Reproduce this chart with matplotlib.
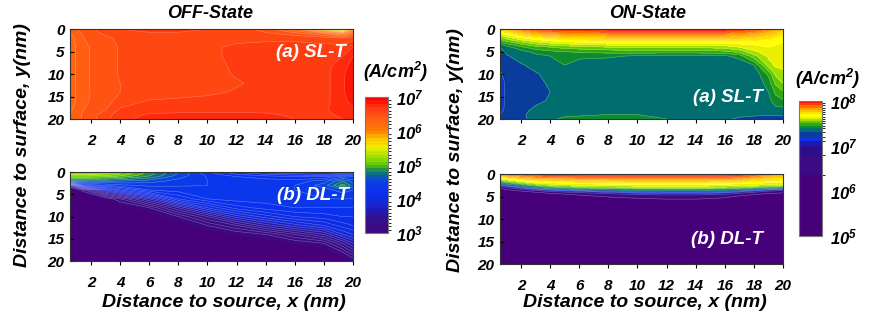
"""Current density maps, OFF / ON state, SL-T vs DL-T (log10 of J in A/cm^2)."""

import numpy as np
import matplotlib
matplotlib.use("Agg")
import matplotlib.pyplot as plt
from matplotlib.cm import ScalarMappable
from matplotlib.colors import LinearSegmentedColormap, ListedColormap, BoundaryNorm

plt.rcParams["font.family"] = ["Liberation Sans", "DejaVu Sans"]
plt.rcParams["font.weight"] = "bold"
plt.rcParams["font.style"] = "italic"
plt.rcParams["mathtext.default"] = "regular"

# ── data: log10(J) ───────────────────────────────────────────────────────────
# OFF-State, (a) SL-T
off_sl_x = [0.55, 1.5, 3, 4, 6, 8, 10, 12, 14, 16, 18, 19.3, 20]
off_sl_y = [0, 1, 2, 4, 6, 8, 10, 12, 14, 16, 18, 19, 20]
off_sl_j = [
    [6.35, 6.45, 6.55, 6.60, 6.65, 6.65, 6.60, 6.55, 6.45, 6.20, 5.60, 5.20, 5.80],
    [6.30, 6.42, 6.52, 6.55, 6.58, 6.58, 6.57, 6.55, 6.52, 6.45, 6.30, 6.05, 6.30],
    [6.25, 6.40, 6.48, 6.52, 6.55, 6.55, 6.56, 6.57, 6.58, 6.58, 6.55, 6.50, 6.55],
    [6.25, 6.38, 6.46, 6.51, 6.53, 6.54, 6.58, 6.62, 6.63, 6.63, 6.63, 6.65, 6.70],
    [6.25, 6.38, 6.46, 6.51, 6.53, 6.54, 6.57, 6.63, 6.64, 6.64, 6.65, 6.70, 6.80],
    [6.25, 6.38, 6.46, 6.51, 6.53, 6.54, 6.56, 6.62, 6.64, 6.65, 6.66, 6.75, 6.85],
    [6.25, 6.38, 6.46, 6.51, 6.53, 6.54, 6.56, 6.61, 6.64, 6.65, 6.66, 6.78, 6.88],
    [6.25, 6.38, 6.46, 6.50, 6.53, 6.54, 6.56, 6.59, 6.63, 6.64, 6.66, 6.78, 6.90],
    [6.25, 6.38, 6.45, 6.50, 6.53, 6.56, 6.58, 6.61, 6.63, 6.64, 6.66, 6.78, 6.90],
    [6.25, 6.38, 6.46, 6.54, 6.61, 6.62, 6.63, 6.64, 6.65, 6.65, 6.67, 6.76, 6.85],
    [6.28, 6.40, 6.50, 6.62, 6.66, 6.67, 6.68, 6.68, 6.68, 6.68, 6.69, 6.73, 6.78],
    [6.30, 6.42, 6.55, 6.66, 6.71, 6.72, 6.72, 6.72, 6.71, 6.69, 6.69, 6.71, 6.74],
    [6.30, 6.42, 6.56, 6.68, 6.73, 6.74, 6.74, 6.73, 6.72, 6.70, 6.69, 6.70, 6.72],
]

# OFF-State, (b) DL-T
off_dl_x = [0.55, 1.5, 3, 4, 6, 8, 10, 12, 14, 16, 18, 19.3, 20]
off_dl_y = [0, 0.5, 1, 2, 3, 4, 6, 8, 10, 12, 14, 16, 18, 20]
off_dl_j = [
    [5.30, 5.30, 5.25, 5.12, 4.85, 4.58, 4.32, 4.10, 3.95, 3.90, 3.85, 3.90, 4.00],
    [5.22, 5.22, 5.18, 5.08, 4.84, 4.58, 4.37, 4.20, 4.10, 4.05, 4.00, 4.10, 4.20],
    [5.05, 5.05, 5.02, 4.95, 4.78, 4.54, 4.39, 4.30, 4.25, 4.20, 4.20, 4.35, 4.40],
    [4.62, 4.62, 4.62, 4.60, 4.55, 4.46, 4.40, 4.35, 4.35, 4.35, 4.45, 4.70, 4.55],
    [3.30, 4.10, 4.30, 4.36, 4.42, 4.41, 4.40, 4.38, 4.38, 4.40, 4.55, 4.85, 4.65],
    [2.80, 3.20, 3.80, 4.00, 4.30, 4.35, 4.38, 4.38, 4.40, 4.40, 4.45, 4.55, 4.50],
    [2.60, 2.70, 3.00, 3.20, 3.60, 4.10, 4.30, 4.35, 4.35, 4.40, 4.40, 4.40, 4.40],
    [2.50, 2.60, 2.80, 2.90, 3.10, 3.50, 3.90, 4.15, 4.25, 4.30, 4.30, 4.30, 4.30],
    [2.50, 2.50, 2.60, 2.70, 2.90, 3.10, 3.40, 3.75, 3.95, 4.10, 4.15, 4.20, 4.20],
    [2.50, 2.50, 2.50, 2.60, 2.70, 2.90, 3.10, 3.30, 3.55, 3.75, 3.90, 4.05, 4.10],
    [2.50, 2.50, 2.50, 2.50, 2.60, 2.70, 2.90, 3.00, 3.10, 3.30, 3.50, 3.80, 3.90],
    [2.50, 2.50, 2.50, 2.50, 2.50, 2.60, 2.70, 2.80, 2.90, 3.00, 3.10, 3.40, 3.60],
    [2.50, 2.50, 2.50, 2.50, 2.50, 2.50, 2.50, 2.60, 2.70, 2.80, 2.90, 3.10, 3.30],
    [2.50, 2.50, 2.50, 2.50, 2.50, 2.50, 2.50, 2.50, 2.60, 2.70, 2.80, 2.90, 3.00],
]

# ON-State, (a) SL-T
on_sl_x = [0.55, 1, 2, 3, 4, 5, 6, 8, 10, 12, 14, 16, 17, 18, 19, 19.5, 20]
on_sl_y = [0, 0.5, 1, 2, 3, 4, 5, 6, 8, 10, 12, 14, 16, 18, 19, 20]
on_sl_j = [
    [7.72, 7.78, 7.86, 7.92, 7.94, 7.96, 7.96, 7.97, 7.97, 7.97, 7.97, 7.97, 7.96, 7.90, 7.86, 7.81, 7.76],
    [7.68, 7.73, 7.81, 7.86, 7.89, 7.90, 7.91, 7.92, 7.92, 7.92, 7.92, 7.92, 7.91, 7.87, 7.82, 7.78, 7.74],
    [7.63, 7.67, 7.75, 7.80, 7.82, 7.84, 7.84, 7.86, 7.86, 7.86, 7.86, 7.86, 7.85, 7.82, 7.78, 7.75, 7.71],
    [7.52, 7.57, 7.64, 7.68, 7.71, 7.73, 7.73, 7.75, 7.75, 7.75, 7.75, 7.75, 7.75, 7.73, 7.71, 7.69, 7.67],
    [7.42, 7.47, 7.53, 7.58, 7.61, 7.63, 7.64, 7.66, 7.66, 7.66, 7.66, 7.66, 7.67, 7.67, 7.67, 7.66, 7.65],
    [7.30, 7.38, 7.44, 7.48, 7.50, 7.52, 7.53, 7.55, 7.56, 7.56, 7.56, 7.57, 7.60, 7.63, 7.65, 7.64, 7.63],
    [7.27, 7.32, 7.38, 7.42, 7.44, 7.45, 7.46, 7.47, 7.48, 7.48, 7.48, 7.49, 7.52, 7.59, 7.63, 7.63, 7.62],
    [7.26, 7.29, 7.34, 7.38, 7.40, 7.41, 7.41, 7.41, 7.39, 7.38, 7.38, 7.39, 7.42, 7.53, 7.61, 7.62, 7.61],
    [7.22, 7.26, 7.29, 7.33, 7.38, 7.40, 7.38, 7.36, 7.35, 7.35, 7.35, 7.35, 7.36, 7.40, 7.57, 7.61, 7.61],
    [7.18, 7.24, 7.27, 7.29, 7.33, 7.35, 7.35, 7.35, 7.35, 7.35, 7.35, 7.35, 7.35, 7.36, 7.46, 7.56, 7.59],
    [7.15, 7.22, 7.26, 7.28, 7.31, 7.34, 7.35, 7.35, 7.35, 7.35, 7.35, 7.35, 7.35, 7.36, 7.42, 7.51, 7.55],
    [7.15, 7.22, 7.26, 7.28, 7.30, 7.33, 7.35, 7.35, 7.35, 7.35, 7.35, 7.35, 7.35, 7.35, 7.40, 7.46, 7.49],
    [7.15, 7.22, 7.26, 7.28, 7.31, 7.34, 7.35, 7.35, 7.35, 7.35, 7.35, 7.35, 7.35, 7.35, 7.38, 7.43, 7.44],
    [7.16, 7.23, 7.27, 7.32, 7.34, 7.35, 7.36, 7.36, 7.36, 7.35, 7.35, 7.35, 7.35, 7.34, 7.35, 7.38, 7.38],
    [7.20, 7.25, 7.28, 7.34, 7.36, 7.38, 7.39, 7.40, 7.40, 7.38, 7.36, 7.34, 7.33, 7.32, 7.31, 7.31, 7.31],
    [7.22, 7.26, 7.28, 7.33, 7.38, 7.42, 7.42, 7.42, 7.42, 7.40, 7.37, 7.32, 7.28, 7.26, 7.25, 7.25, 7.25],
]

# ON-State, (b) DL-T
on_dl_x = [0.55, 1, 2, 3, 4, 6, 8, 10, 12, 14, 16, 17, 18, 19, 20]
on_dl_y = [0, 0.5, 1, 1.5, 2, 2.5, 3, 3.5, 4, 4.5, 5, 6, 8, 20]
on_dl_j = [
    [7.85, 7.90, 7.93, 7.95, 7.96, 7.97, 7.97, 7.97, 7.97, 7.97, 7.97, 7.96, 7.93, 7.85, 7.80],
    [7.72, 7.78, 7.84, 7.88, 7.90, 7.92, 7.92, 7.92, 7.92, 7.92, 7.92, 7.90, 7.86, 7.80, 7.76],
    [7.60, 7.66, 7.74, 7.78, 7.80, 7.83, 7.84, 7.84, 7.84, 7.84, 7.84, 7.82, 7.78, 7.74, 7.72],
    [7.48, 7.55, 7.64, 7.70, 7.72, 7.74, 7.75, 7.76, 7.76, 7.76, 7.75, 7.74, 7.72, 7.70, 7.68],
    [7.30, 7.40, 7.52, 7.60, 7.64, 7.67, 7.68, 7.69, 7.69, 7.69, 7.68, 7.67, 7.66, 7.64, 7.63],
    [7.00, 7.15, 7.35, 7.48, 7.55, 7.60, 7.62, 7.63, 7.63, 7.63, 7.62, 7.61, 7.60, 7.57, 7.56],
    [6.50, 6.80, 7.10, 7.30, 7.40, 7.48, 7.52, 7.54, 7.55, 7.55, 7.53, 7.50, 7.46, 7.40, 7.35],
    [6.00, 6.30, 6.70, 6.95, 7.10, 7.25, 7.30, 7.35, 7.36, 7.36, 7.33, 7.28, 7.20, 7.05, 6.95],
    [5.60, 5.80, 6.10, 6.40, 6.70, 6.90, 7.05, 7.15, 7.18, 7.18, 7.12, 7.00, 6.85, 6.60, 6.50],
    [5.40, 5.50, 5.70, 5.90, 6.10, 6.50, 6.70, 6.85, 6.90, 6.90, 6.80, 6.60, 6.40, 6.20, 6.10],
    [5.30, 5.30, 5.40, 5.50, 5.70, 6.10, 6.40, 6.50, 6.55, 6.55, 6.45, 6.25, 6.00, 5.80, 5.70],
    [5.20, 5.20, 5.20, 5.30, 5.40, 5.60, 5.90, 6.10, 6.20, 6.20, 6.10, 5.90, 5.60, 5.40, 5.30],
    [4.90, 4.90, 4.90, 4.90, 4.90, 4.90, 4.90, 4.90, 4.90, 4.90, 4.90, 4.90, 4.90, 4.90, 4.90],
    [4.90, 4.90, 4.90, 4.90, 4.90, 4.90, 4.90, 4.90, 4.90, 4.90, 4.90, 4.90, 4.90, 4.90, 4.90],
]

off_ticks = [3, 4, 5, 6, 7]
on_ticks = [5, 6, 7, 8]

# ── colour scales ────────────────────────────────────────────────────────────
off_levels = np.round(np.arange(3.0, 7.001, 0.1), 2)
off_cmap = LinearSegmentedColormap.from_list("off", [
    (0.00, "#3e0880"), (0.10, "#34108c"), (0.15, "#2418b0"), (0.20, "#1428d8"),
    (0.30, "#0a30f0"), (0.38, "#0a40e6"), (0.43, "#0a6a90"), (0.47, "#28a030"),
    (0.50, "#60c800"), (0.56, "#a0e000"), (0.63, "#f0f000"), (0.70, "#ffc000"),
    (0.75, "#ff8000"), (0.85, "#ff5c14"), (0.92, "#ff3c10"), (1.00, "#ff0000"),
])
off_cmap.set_under("#46007a")
off_cmap.set_over("#ff0000")
off_norm = BoundaryNorm(off_levels, off_cmap.N)

on_levels = [5.0, 6.35, 6.8, 7.0, 7.1, 7.2, 7.3, 7.4, 7.45, 7.5, 7.55, 7.6,
             7.65, 7.7, 7.75, 7.8, 7.85, 7.9, 7.95, 8.0]
on_cmap = ListedColormap([
    "#46007a", "#3c0a82", "#2c0e8c", "#1a1ab0", "#0a30e8", "#0a3c9c",
    "#006e6e", "#108a30", "#30a810", "#60c800", "#a0e000", "#e8f000",
    "#ffff00", "#ffe000", "#ffc000", "#ffa000", "#ff7000", "#ff4000", "#ff1000",
])
on_cmap.set_under("#46007a")
on_cmap.set_over("#ff1000")
on_norm = BoundaryNorm(on_levels, on_cmap.N)

# ── figure ───────────────────────────────────────────────────────────────────
fig = plt.figure(figsize=(8.75, 3.2), dpi=100)
fig.patch.set_facecolor("white")

ax_pos = {
    "off_sl": [0.080, 0.628, 0.3234, 0.281],
    "off_dl": [0.080, 0.184, 0.3234, 0.278],
    "on_sl": [0.5714, 0.628, 0.3234, 0.281],
    "on_dl": [0.5714, 0.175, 0.3234, 0.281],
}

TICK_FONT = dict(fontsize=11, fontweight="bold", fontstyle="italic")


def draw_map(key, xs, ys, z, levels, cmap, norm, label, lab_x, lab_y):
    ax = fig.add_axes(ax_pos[key])
    X, Y = np.meshgrid(xs, ys)
    Z = np.array(z)
    ax.contourf(X, Y, Z, levels=levels, cmap=cmap, norm=norm, extend="both")
    # faint white iso-lines, skipping the lowest boundary (flat floor)
    ax.contour(X, Y, Z, levels=levels[1:], colors="white", linewidths=0.4, alpha=0.35)
    ax.set_xlim(0.55, 20)
    ax.set_ylim(20, 0)
    ax.set_xticks(range(2, 21, 2))
    ax.set_yticks([0, 5, 10, 15, 20])
    ax.tick_params(axis="x", direction="out", length=3, width=0.8, pad=8)
    ax.tick_params(axis="y", direction="in", length=3, width=0.8, pad=4)
    for t in ax.get_xticklabels() + ax.get_yticklabels():
        t.set(**TICK_FONT)
    for sp in ax.spines.values():
        sp.set_linewidth(0.8)
        sp.set_color("#333333")
    ax.text(lab_x, lab_y, label, ha="right", va="center",
            color="white", fontsize=13.5, fontweight="bold", fontstyle="italic")


draw_map("off_sl", off_sl_x, off_sl_y, off_sl_j, off_levels, off_cmap, off_norm, "(a) SL-T", 19.5, 5.1)
draw_map("off_dl", off_dl_x, off_dl_y, off_dl_j, off_levels, off_cmap, off_norm, "(b) DL-T", 19.7, 5.3)
draw_map("on_sl", on_sl_x, on_sl_y, on_sl_j, on_levels, on_cmap, on_norm, "(a) SL-T", 18.6, 15.1)
draw_map("on_dl", on_dl_x, on_dl_y, on_dl_j, on_levels, on_cmap, on_norm, "(b) DL-T", 18.6, 14.6)

# colour bars
for cmap, norm, pos, ticks, lab_xy in [
    (off_cmap, off_norm, [0.417, 0.272, 0.026, 0.425], off_ticks, (0.452, 0.775)),
    (on_cmap, on_norm, [0.913, 0.2625, 0.026, 0.422], on_ticks, (0.946, 0.753)),
]:
    cax = fig.add_axes(pos)
    cb = fig.colorbar(ScalarMappable(norm=norm, cmap=cmap), cax=cax, spacing="proportional")
    cb.set_ticks(ticks)
    cb.set_ticklabels([rf"10$^{{{t}}}$" for t in ticks])
    cb.ax.tick_params(length=0, pad=6)
    for t in cb.ax.get_yticklabels():
        t.set(fontsize=12, fontweight="bold", fontstyle="italic")
    cb.outline.set_edgecolor("#777777")
    cb.outline.set_linewidth(0.8)
    fig.text(lab_xy[0], lab_xy[1], r"(A/cm$^2$)", ha="center", va="center",
             fontsize=13, fontweight="bold", fontstyle="italic")

# titles and axis labels
fig.text(0.240, 0.958, "OFF-State", ha="center", va="center", fontsize=13, fontweight="bold", fontstyle="italic")
fig.text(0.740, 0.958, "ON-State", ha="center", va="center", fontsize=13, fontweight="bold", fontstyle="italic")
for xc in (0.256, 0.737):
    fig.text(xc, 0.056, "Distance to source, x (nm)", ha="center", va="center",
             fontsize=14, fontweight="bold", fontstyle="italic")
for xc, yc in ((0.026, 0.547), (0.521, 0.53)):
    fig.text(xc, yc, "Distance to surface, y(nm)", ha="center", va="center", rotation=90,
             fontsize=14, fontweight="bold", fontstyle="italic")

fig.savefig("out.png", dpi=100, facecolor="white")
